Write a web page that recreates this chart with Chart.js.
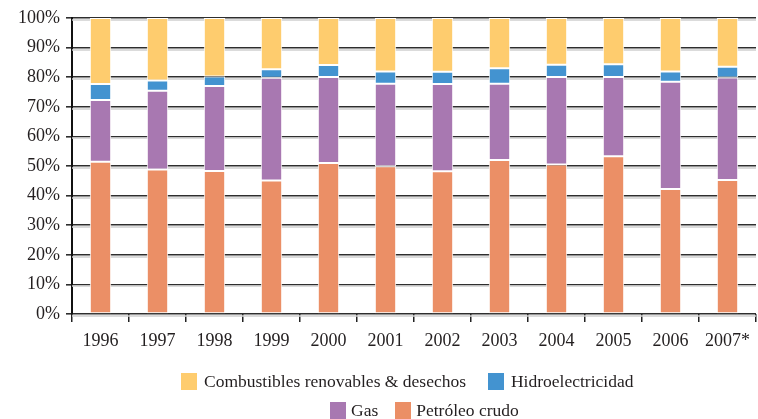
<!DOCTYPE html>
<html lang="es">
<head>
<meta charset="utf-8">
<title>Oferta de energía primaria por fuente, 1996-2007</title>
<script src="https://cdn.jsdelivr.net/npm/chart.js@4/dist/chart.umd.min.js"></script>
<style>
  html, body { margin: 0; padding: 0; background: #fff; }
  #wrap { position: relative; width: 758px; height: 419px; }
  #chart { position: absolute; left: 0; top: 0; }
  .legend-row { position: absolute; display: flex; align-items: center; white-space: nowrap;
                font-family: "Liberation Serif", "DejaVu Serif", serif; font-size: 17.5px; color: #231f20; }
  .legend-row .box { width: 16px; height: 17px; display: inline-block; }
  .legend-row .txt { display: inline-block; }
</style>
</head>
<body>
<div id="wrap">
  <canvas id="chart" width="758" height="419"></canvas>
  <div class="legend-row" id="row1" style="left:181px; top:371px;"></div>
  <div class="legend-row" id="row2" style="left:330px; top:400px;"></div>
</div>
<script>
// Years on the horizontal axis
const years = ['1996', '1997', '1998', '1999', '2000', '2001', '2002', '2003', '2004', '2005', '2006', '2007*'];

// Share of each source in the total supply (%), stacked bottom to top
const petroleo = [51.4, 48.8, 48.3, 45.1, 51.0, 49.9, 48.2, 52.0, 50.5, 53.3, 42.2, 45.3];
const gas      = [20.9, 26.6, 28.7, 34.7, 29.1, 27.9, 29.5, 25.8, 29.6, 26.8, 36.3, 34.6];
const hidro    = [ 5.4,  3.5,  3.2,  2.9,  4.0,  4.1,  4.1,  5.2,  4.1,  4.3,  3.4,  3.6];
const renov    = [22.3, 21.1, 19.8, 17.3, 15.9, 18.1, 18.2, 17.0, 15.8, 15.6, 18.1, 16.5];

// Percent tick values on the vertical axis
const yTicks = [0, 10, 20, 30, 40, 50, 60, 70, 80, 90, 100];

const serif = '"Liberation Serif", "DejaVu Serif", serif';
const textColor = '#231f20';

// Pale rule drawn just under each horizontal grid line
const gridShadow = {
  id: 'gridShadow',
  beforeDatasetsDraw(chart) {
    const { ctx, chartArea, scales } = chart;
    const y = scales.y;
    ctx.save();
    ctx.strokeStyle = '#cfcfcf';
    ctx.lineWidth = 1.5;
    yTicks.forEach(v => {
      const py = Math.round(y.getPixelForValue(v)) + 2;
      ctx.beginPath();
      ctx.moveTo(chartArea.left, py);
      ctx.lineTo(chartArea.right, py);
      ctx.stroke();
    });
    ctx.restore();
  }
};

const barStyle = { borderColor: '#ffffff', borderWidth: 1, borderSkipped: false,
                   barPercentage: 0.375, categoryPercentage: 1.0 };

const chart = new Chart(document.getElementById('chart'), {
  type: 'bar',
  data: {
    labels: years,
    datasets: [
      Object.assign({ label: 'Petróleo crudo', data: petroleo, backgroundColor: '#eb8f66' }, barStyle),
      Object.assign({ label: 'Gas', data: gas, backgroundColor: '#a878b1' }, barStyle),
      Object.assign({ label: 'Hidroelectricidad', data: hidro, backgroundColor: '#4393d0' }, barStyle),
      Object.assign({ label: 'Combustibles renovables & desechos', data: renov, backgroundColor: '#fecc6e' }, barStyle)
    ]
  },
  options: {
    responsive: false,
    animation: false,
    layout: { padding: { top: 18, right: 0, bottom: 0, left: 0 } },
    plugins: {
      legend: { display: false },
      tooltip: { enabled: false }
    },
    scales: {
      x: {
        stacked: true,
        grid: { display: true, offset: true, drawOnChartArea: false, drawTicks: true,
                tickLength: 8, color: '#222', lineWidth: 1.5 },
        border: { display: false },
        ticks: { color: textColor, font: { family: serif, size: 18 }, padding: 8, maxRotation: 0 },
        afterFit(scale) { scale.height = 105; }
      },
      y: {
        stacked: true,
        min: 0,
        max: 100,
        afterBuildTicks(scale) { scale.ticks = yTicks.map(v => ({ value: v })); },
        grid: { color: '#2e2e2e', lineWidth: 1.6, tickLength: 6 },
        border: { display: true, color: '#111', width: 2 },
        ticks: { color: textColor, font: { family: serif, size: 18 }, padding: 6,
                 callback: v => v + '%' },
        afterFit(scale) { scale.width = 72; }
      }
    }
  },
  plugins: [gridShadow]
});

// Two-row legend built from the chart's own datasets (top of stack first)
const items = chart.data.datasets.slice().reverse();
const rows = [document.getElementById('row1'), document.getElementById('row2')];
const gaps = [[7, 22], [5, 17]];
items.forEach((ds, i) => {
  const r = i < 2 ? 0 : 1;
  const row = rows[r];
  const box = document.createElement('span');
  box.className = 'box';
  box.style.background = ds.backgroundColor;
  if (i % 2 === 1) box.style.marginLeft = gaps[r][1] + 'px';
  const txt = document.createElement('span');
  txt.className = 'txt';
  txt.style.marginLeft = gaps[r][0] + 'px';
  txt.textContent = ds.label;
  row.appendChild(box);
  row.appendChild(txt);
});
</script>
</body>
</html>
